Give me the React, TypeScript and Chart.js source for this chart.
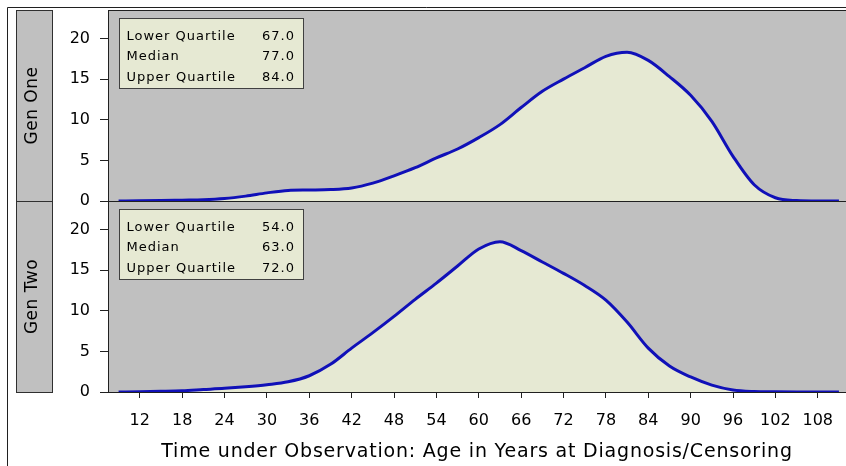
import React, { useEffect, useRef } from 'react';
import { Chart, registerables } from 'chart.js';

Chart.register(...registerables);

// ---- data ----
const ages = [9, 12, 15, 18, 21, 24, 27, 30, 33, 36, 39, 42, 45, 48, 51, 54, 57, 60, 63, 66, 69, 72, 75, 78, 81, 84, 87, 90, 93, 96, 99, 102, 105, 108, 111];
const genOne = [0, 0.02, 0.05, 0.1, 0.15, 0.3, 0.6, 1.0, 1.3, 1.35, 1.4, 1.6, 2.2, 3.1, 4.1, 5.3, 6.4, 7.8, 9.4, 11.5, 13.5, 15.0, 16.4, 17.8, 18.3, 17.3, 15.3, 13.0, 9.8, 5.5, 2.0, 0.4, 0.05, 0, 0];
const genTwo = [0, 0.03, 0.08, 0.15, 0.3, 0.45, 0.65, 0.9, 1.25, 2.0, 3.4, 5.4, 7.3, 9.3, 11.4, 13.4, 15.5, 17.6, 18.5, 17.4, 16.0, 14.6, 13.1, 11.3, 8.6, 5.4, 3.2, 1.85, 0.85, 0.25, 0.06, 0.02, 0, 0, 0];
const xTicks = [12, 18, 24, 30, 36, 42, 48, 54, 60, 66, 72, 78, 84, 90, 96, 102, 108];
const yTicks = [0, 5, 10, 15, 20];
const panelLabels = ['Gen One', 'Gen Two'];
const statLabels = ['Lower Quartile', 'Median', 'Upper Quartile'];
const genOneStats = ['67.0', '77.0', '84.0'];
const genTwoStats = ['54.0', '63.0', '72.0'];
const xTitle = 'Time under Observation: Age in Years at Diagnosis/Censoring';

// ---- styles ----
const FONT = '"DejaVu Sans", Verdana, sans-serif';
const GRAY = '#c0c0c0';
const FILL = '#e6e9d3';
const LINE = '#1010b8';
const INK = '#000000';

function spacing(ctx: any, px: number) {
  if ('letterSpacing' in ctx) ctx.letterSpacing = `${px}px`;
}

const decor = {
  id: 'decor',
  beforeDatasetsDraw(chart: any) {
    const ctx = chart.ctx;
    const ca = chart.chartArea;
    ctx.save();
    [chart.scales.yTop, chart.scales.yBot].forEach((s: any) => {
      ctx.fillStyle = GRAY;
      ctx.fillRect(ca.left, s.top, ca.right - ca.left, s.bottom - s.top);
    });
    ctx.restore();
  },
  afterDraw(chart: any) {
    const ctx = chart.ctx;
    const ca = chart.chartArea;
    const panels = [chart.scales.yTop, chart.scales.yBot];
    const stats = [genOneStats, genTwoStats];
    ctx.save();
    ctx.lineWidth = 1;
    ctx.strokeStyle = '#202020';
    // outer border
    ctx.beginPath();
    ctx.moveTo(7.5, chart.height);
    ctx.lineTo(7.5, 7.5);
    ctx.lineTo(chart.width, 7.5);
    ctx.stroke();
    panels.forEach((s: any, i: number) => {
      const t = Math.round(s.top);
      const b = Math.round(s.bottom);
      // strip
      ctx.fillStyle = GRAY;
      ctx.fillRect(16, t, 36, b - t);
      ctx.strokeStyle = '#303030';
      ctx.strokeRect(16.5, t + 0.5, 36, b - t);
      ctx.save();
      ctx.translate(37, (t + b) / 2);
      ctx.rotate(-Math.PI / 2);
      ctx.fillStyle = INK;
      ctx.font = `17px ${FONT}`;
      spacing(ctx, 0.5);
      ctx.textAlign = 'center';
      ctx.textBaseline = 'alphabetic';
      ctx.fillText(panelLabels[i], 0, 0);
      ctx.restore();
      // panel frame
      ctx.strokeStyle = '#202020';
      ctx.beginPath();
      ctx.moveTo(ca.left, t + 0.5);
      ctx.lineTo(ca.right, t + 0.5);
      ctx.moveTo(ca.left + 0.5, t);
      ctx.lineTo(ca.left + 0.5, b);
      ctx.stroke();
      // inset box
      const bx = ca.left + 11.5;
      const by = t + 8.5;
      ctx.fillStyle = FILL;
      ctx.fillRect(bx, by, 184, 70);
      ctx.strokeStyle = '#404040';
      ctx.strokeRect(bx, by, 184, 70);
      ctx.font = `13px ${FONT}`;
      spacing(ctx, 1);
      ctx.fillStyle = INK;
      ctx.textBaseline = 'alphabetic';
      const rows = [29.5, 50.3, 71];
      statLabels.forEach((lab, k) => {
        ctx.textAlign = 'left';
        ctx.fillText(lab, ca.left + 18.5, t + rows[k]);
        ctx.textAlign = 'right';
        ctx.fillText(stats[i][k], ca.left + 187, t + rows[k]);
      });
    });
    // bottom frame line
    ctx.strokeStyle = '#202020';
    ctx.beginPath();
    ctx.moveTo(ca.left, Math.round(ca.bottom) + 0.5);
    ctx.lineTo(ca.right, Math.round(ca.bottom) + 0.5);
    ctx.stroke();
    // x title
    ctx.fillStyle = INK;
    ctx.font = `19px ${FONT}`;
    spacing(ctx, 0.8);
    ctx.textAlign = 'center';
    ctx.textBaseline = 'alphabetic';
    ctx.fillText(xTitle, (ca.left + ca.right) / 2, 457);
    ctx.restore();
  },
};

function yScale(weight: number) {
  return {
    type: 'linear' as const,
    position: 'left' as const,
    stack: 'panels',
    stackWeight: 1,
    weight,
    min: 0,
    max: 23.5,
    afterBuildTicks: (s: any) => {
      s.ticks = yTicks.map((v) => ({ value: v }));
    },
    afterFit: (s: any) => {
      s.width = 108;
      s.paddingTop = 0;
      s.paddingBottom = 0;
    },
    ticks: {
      padding: 10,
      color: INK,
      font: { family: FONT, size: 16 },
      callback: (v: any) => String(v),
    },
    grid: { drawOnChartArea: false, drawTicks: true, tickLength: 8, color: '#202020' },
    border: { display: true, color: '#202020', width: 1 },
  };
}

export default function App() {
  const ref = useRef<HTMLCanvasElement>(null);
  useEffect(() => {
    const canvas = ref.current!;
    const chart = new Chart(canvas, {
      type: 'line',
      data: {
        datasets: [
          {
            label: panelLabels[0],
            data: ages.map((a, i) => ({ x: a, y: genOne[i] })),
            yAxisID: 'yTop',
            borderColor: LINE,
            backgroundColor: FILL,
            fill: 'origin',
            borderWidth: 3,
            pointRadius: 0,
            cubicInterpolationMode: 'monotone',
          },
          {
            label: panelLabels[1],
            data: ages.map((a, i) => ({ x: a, y: genTwo[i] })),
            yAxisID: 'yBot',
            borderColor: LINE,
            backgroundColor: FILL,
            fill: 'origin',
            borderWidth: 3,
            pointRadius: 0,
            cubicInterpolationMode: 'monotone',
          },
        ],
      },
      options: {
        animation: false,
        responsive: false,
        devicePixelRatio: 1,
        layout: { padding: { top: 10, left: 0, right: 0, bottom: 0 } },
        plugins: {
          legend: { display: false },
          tooltip: { enabled: false },
          title: { display: false },
        },
        scales: {
          x: {
            type: 'linear',
            min: 7.5,
            max: 112,
            afterBuildTicks: (s: any) => {
              s.ticks = xTicks.map((v) => ({ value: v }));
            },
            afterFit: (s: any) => {
              s.height = 74;
              s.paddingLeft = 0;
              s.paddingRight = 0;
            },
            ticks: {
              autoSkip: false,
              maxRotation: 0,
              padding: 13,
              color: INK,
              font: { family: FONT, size: 16 },
              callback: (v: any) => String(v),
            },
            grid: { drawOnChartArea: false, drawTicks: true, tickLength: 6, color: '#202020' },
            border: { display: true, color: '#202020', width: 1 },
          },
          yTop: yScale(2),
          yBot: yScale(1),
        } as any,
      },
      plugins: [decor],
    } as any);
    return () => chart.destroy();
  }, []);
  return (
    <div style={{ position: 'absolute', left: 0, top: 0, width: 846, height: 466, background: '#ffffff' }}>
      <canvas ref={ref} width={846} height={466} style={{ display: 'block' }} />
    </div>
  );
}
